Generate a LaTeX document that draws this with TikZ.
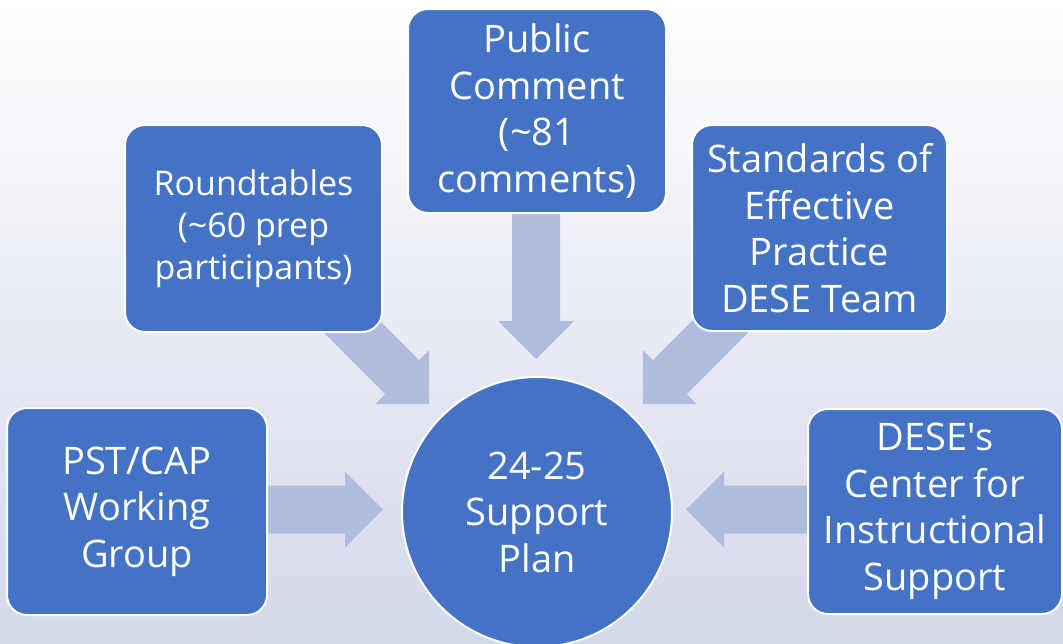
\documentclass[tikz,border=0pt]{standalone}
\usepackage{fontspec}
\setmainfont{Open Sans}
\usetikzlibrary{calc}
\definecolor{boxblue}{HTML}{4472C4}
\definecolor{arrowc}{HTML}{AFBCDE}
\definecolor{bgdark}{HTML}{D3D8EA}
\definecolor{bgmid}{HTML}{EBEDF5}
\newcommand\blockarrow[2]{%
  \fill[arrowc] let \p1=(#1), \p2=(#2),
    \n1={atan2(\y2-\y1,\x2-\x1)}, \n2={veclen(\x2-\x1,\y2-\y1)} in
    [shift={(\p1)}, rotate=\n1]
    (0pt,-24pt) -- ({\n2-38pt},-24pt) -- ({\n2-38pt},-38pt) -- (\n2,0pt)
    -- ({\n2-38pt},38pt) -- ({\n2-38pt},24pt) -- (0pt,24pt) -- cycle;}
\tikzset{
  box/.style={draw=white, line width=2pt, fill=boxblue, rounded corners=20pt,
    text=white, align=center, inner sep=0pt,
    font=\fontsize{38}{46.5}\selectfont},
  hub/.style={circle, draw=white, line width=2pt, fill=boxblue,
    text=white, align=center, inner sep=0pt, minimum size=270pt,
    font=\fontsize{38}{46.5}\selectfont}
}
\begin{document}
\begin{tikzpicture}[x=1pt,y=-1pt]
\useasboundingbox (0,0) rectangle (1063,643);
\clip (0,0) rectangle (1063,643);
\shade[shading angle=-35, top color=white, middle color=bgmid, bottom color=bgdark]
  (0,0) rectangle (1063,643);
% arrow end points
\coordinate (sL) at (250,509.5);  \coordinate (tL) at (383,509.5);
\coordinate (sR) at (825,509.5);  \coordinate (tR) at (686,509.5);
\coordinate (sT) at (536,195);    \coordinate (tT) at (536,359);
\coordinate (sUL) at (299,274);   \coordinate (tUL) at (429,404);
\coordinate (sUR) at (773,274);   \coordinate (tUR) at (643,404);
\blockarrow{sL}{tL}
\blockarrow{sR}{tR}
\blockarrow{sT}{tT}
\blockarrow{sUL}{tUL}
\blockarrow{sUR}{tUR}
% nodes
\node[box, minimum width=260pt, minimum height=207pt] (pst) at (137,511.5)
  {PST/CAP\\Working\\Group};
\node[box, minimum width=257pt, minimum height=207pt,
  font=\fontsize{34}{42}\selectfont] (round) at (253.5,228.5)
  {Roundtables\\(\textasciitilde 60 prep\\participants)};
\node[box, minimum width=258pt, minimum height=204pt] (pub) at (537,111)
  {Public\\Comment\\(\textasciitilde 81\\comments)};
\node[box, minimum width=255pt, minimum height=206pt] (std) at (819.5,228)
  {Standards of\\Effective\\Practice\\DESE Team};
\node[box, minimum width=254pt, minimum height=205pt] (cis) at (935,511.5)
  {DESE\textquotesingle s\\Center for\\Instructional\\Support};
\node[hub] (plan) at (537,512) {24-25\\Support\\Plan};
\end{tikzpicture}
\end{document}
